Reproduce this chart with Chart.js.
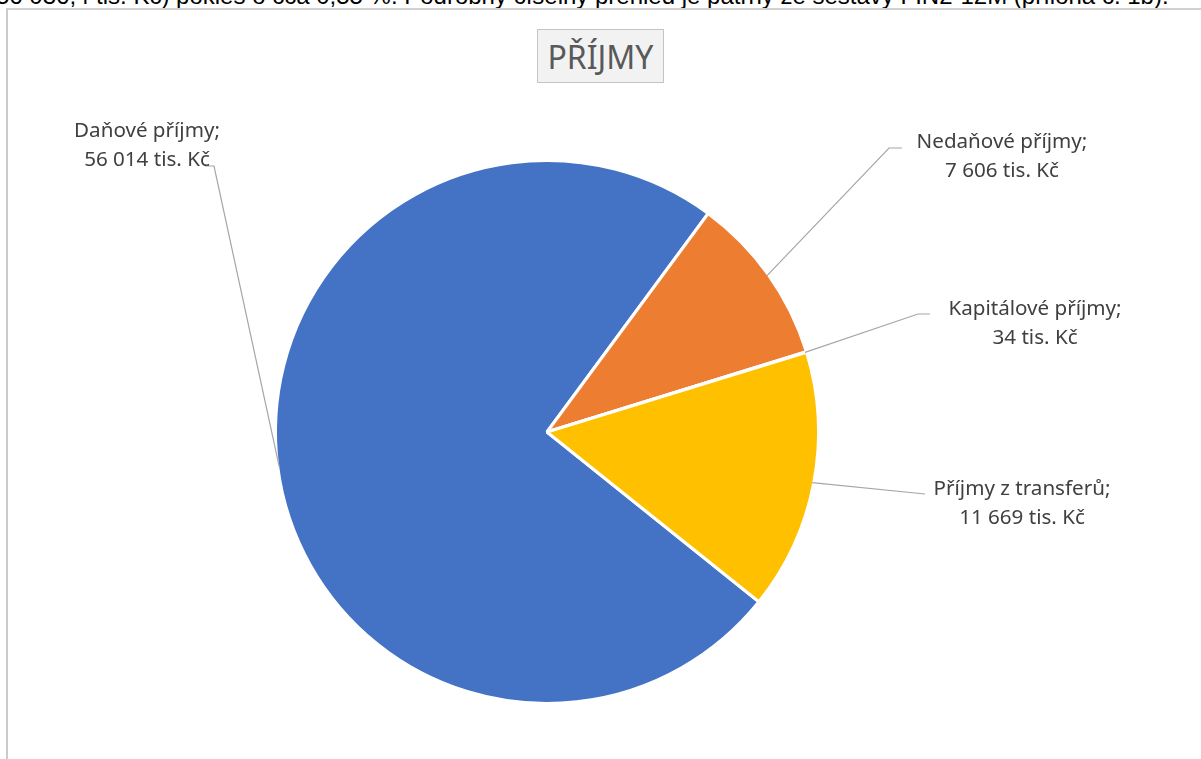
<!DOCTYPE html>
<html lang="cs">
<head>
<meta charset="utf-8">
<title>Příjmy</title>
<script src="https://cdn.jsdelivr.net/npm/chart.js@4/dist/chart.umd.min.js"></script>
<style>
  html, body { margin: 0; padding: 0; background: #fff; overflow: hidden; }
  body { width: 1201px; height: 759px; position: relative; }
  .page-text {
    position: absolute; left: -4px; top: -18px; white-space: nowrap;
    font: 24px "Liberation Sans", Arial, sans-serif; color: #000;
  }
  .frame {
    position: absolute; left: 6px; top: 8px; width: 1400px; height: 900px;
    border-left: 2px solid #cbcbcb; border-top: 2px solid #d0d0d0;
  }
  .title-box {
    position: absolute; left: 537px; top: 29px; width: 127px; height: 54px;
    box-sizing: border-box; border: 1.5px solid #c4c4c4; background: #f2f2f2;
    font: 32px "Noto Sans", sans-serif; color: #595959;
    display: flex; align-items: center; justify-content: center;
  }
  canvas { position: absolute; left: 0; top: 0; }
</style>
</head>
<body>
<div class="page-text">56 036,4 tis. Kč) pokles o cca 0,55 %. Podrobný číselný přehled je patrný ze sestavy FIN2-12M (příloha č. 1b).</div>
<div class="frame"></div>
<div class="title-box">PŘÍJMY</div>
<canvas id="pieChart" width="1201" height="759"></canvas>
<script>
// Data (tis. Kč)
const categories = ['Daňové příjmy', 'Nedaňové příjmy', 'Kapitálové příjmy', 'Příjmy z transferů'];
const values = [56014, 7606, 34, 11669];
const sliceColors = ['#4472c4', '#ed7d31', '#a5a5a5', '#ffc000'];

// Umístění popisků vůči středu koláče (px): text, zlom odkazové čáry, konec čáry
const labelLayout = [
  { tx: -400, ty: -295, ex: -333, ey: -266, lx: -342, ly: -266 },
  { tx: 455, ty: -284, ex: 342, ey: -284, lx: 355, ly: -284 },
  { tx: 488, ty: -117, ex: 371, ey: -118, lx: 383, ly: -118 },
  { tx: 475, ty: 63, ex: 378, ey: 62, lx: 378, ly: 62 }
];

function formatValue(v) {
  return String(v).replace(/\B(?=(\d{3})+(?!\d))/g, ' ') + ' tis. Kč';
}

// Popisky s odkazovými čarami
const leaderLabels = {
  id: 'leaderLabels',
  afterDatasetsDraw(chart) {
    const ctx = chart.ctx;
    const arcs = chart.getDatasetMeta(0).data;
    ctx.save();
    arcs.forEach((arc, i) => {
      const pos = labelLayout[i];
      const mid = (arc.startAngle + arc.endAngle) / 2;
      const r = arc.outerRadius - 1.5;
      const ax = arc.x + Math.cos(mid) * r;
      const ay = arc.y + Math.sin(mid) * r;

      ctx.strokeStyle = '#a6a6a6';
      ctx.lineWidth = 1.2;
      ctx.beginPath();
      ctx.moveTo(ax, ay);
      ctx.lineTo(arc.x + pos.ex, arc.y + pos.ey);
      ctx.lineTo(arc.x + pos.lx, arc.y + pos.ly);
      ctx.stroke();

      ctx.fillStyle = '#404040';
      ctx.font = '20.6px "Noto Sans", sans-serif';
      ctx.textAlign = 'center';
      ctx.textBaseline = 'alphabetic';
      ctx.fillText(categories[i] + ';', arc.x + pos.tx, arc.y + pos.ty);
      ctx.fillText(formatValue(values[i]), arc.x + pos.tx, arc.y + pos.ty + 29);
    });
    ctx.restore();
  }
};

new Chart(document.getElementById('pieChart'), {
  type: 'pie',
  data: {
    labels: categories,
    datasets: [{
      data: values,
      backgroundColor: sliceColors,
      borderColor: '#ffffff',
      borderWidth: 3
    }]
  },
  options: {
    responsive: false,
    animation: false,
    devicePixelRatio: 1,
    rotation: 128.7,
    layout: { padding: { left: 274, right: 381, top: 159, bottom: 54 } },
    plugins: {
      legend: { display: false },
      tooltip: { enabled: false },
      title: { display: false }
    }
  },
  plugins: [leaderLabels]
});
</script>
</body>
</html>
